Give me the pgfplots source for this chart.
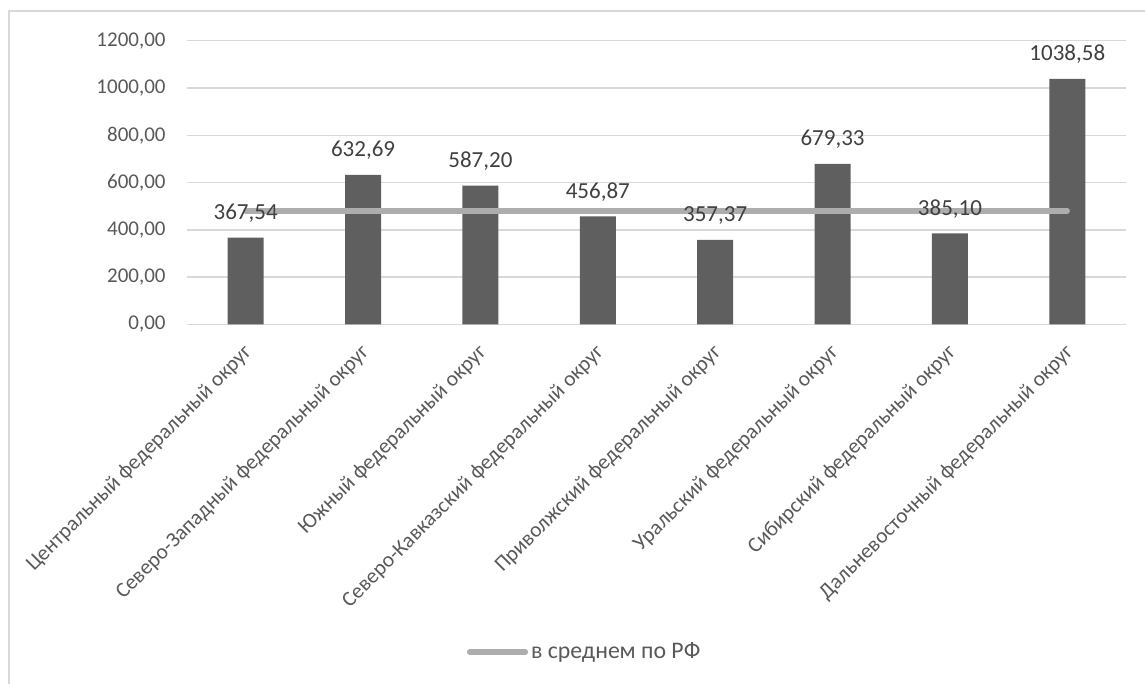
\documentclass[border=0pt]{standalone}
\usepackage{pgfplots}
\pgfplotsset{compat=1.18}
\usepackage{fontspec}
\setmainfont{Carlito}
\definecolor{barcol}{HTML}{5F5F5F}
\definecolor{avgcol}{HTML}{ADADAD}
\definecolor{gridcol}{HTML}{D9D9D9}
\definecolor{textcol}{HTML}{595959}
\definecolor{labelcol}{HTML}{404040}
\begin{document}
\begin{tikzpicture}
\path[use as bounding box] (0,0) rectangle (572.5pt,342pt);
\clip (0,0) rectangle (572.5pt,342pt);
% chart frame
\draw[gridcol, line width=0.75pt] (4.5pt,-5pt) rectangle (580pt,336.5pt);
\begin{axis}[
  at={(93.5pt,179.75pt)}, anchor=south west,
  scale only axis, width=469.5pt, height=141.9pt,
  xmin=-0.5, xmax=7.5, ymin=0, ymax=1200,
  axis line style={draw=none},
  major tick length=0pt,
  ymajorgrids, grid style={gridcol, line width=0.7pt},
  ytick={0,200,...,1200},
  xtick={0,...,7},
  xticklabels={Центральный федеральный округ,
    Северо-Западный федеральный округ,
    Южный федеральный округ,
    Северо-Кавказский федеральный округ,
    Приволжский федеральный округ,
    Уральский федеральный округ,
    Сибирский федеральный округ,
    Дальневосточный федеральный округ},
  /pgf/number format/assume math mode=true,
  tick label style={font=\fontsize{10.5}{12}\selectfont, text=textcol},
  yticklabel style={anchor=east, inner sep=0pt, xshift=-10.5pt,
    /pgf/number format/.cd, fixed, zerofill, precision=2, use comma, 1000 sep={}},
  xticklabel style={inner sep=0pt, xshift=1.5pt, yshift=-12.5pt, rotate=45, anchor=east,
    font=\fontsize{10.7}{12}\selectfont},
  legend style={at={(0.424,-1.154)}, anchor=center, draw=none, fill=none,
    font=\fontsize{11.9}{13}\selectfont, text=textcol, inner sep=0pt,
    nodes={inner xsep=1.5pt}},
  legend cell align=left,
  legend image code/.code={\draw[#1] (0pt,0pt) -- (28pt,0pt);},
]
% regional values
\addplot[ybar, bar width=18pt, bar shift=0pt, fill=barcol, draw=none, forget plot]
  coordinates {(0,367.54) (1,632.69) (2,587.20) (3,456.87) (4,357.37) (5,679.33) (6,385.10) (7,1038.58)};
% national average
\addplot[avgcol, line width=2.6pt, line cap=round] coordinates {(0,480) (7,480)};
\addlegendentry{в среднем по РФ}
% value labels above the bars
\addplot[ybar, bar width=18pt, bar shift=0pt, draw=none, fill=none, forget plot,
  nodes near coords={\pgfmathprintnumber[fixed, zerofill, precision=2, use comma, 1000 sep={}, assume math mode=true]{\pgfplotspointmeta}},
  every node near coord/.append style={anchor=base, yshift=9pt, inner sep=0pt,
    font=\fontsize{11.5}{13}\selectfont, text=labelcol}]
  coordinates {(0,367.54) (1,632.69) (2,587.20) (3,456.87) (4,357.37) (5,679.33) (6,385.10) (7,1038.58)};
\end{axis}
\end{tikzpicture}
\end{document}
